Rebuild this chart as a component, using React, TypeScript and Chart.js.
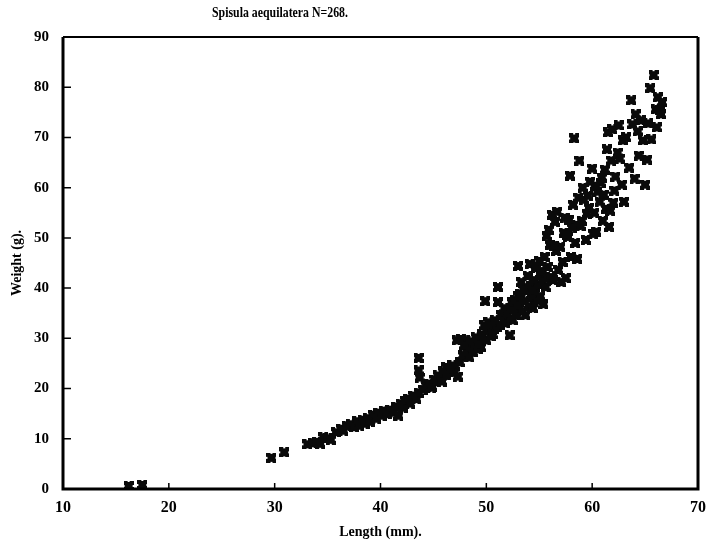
import React, { useEffect, useRef } from "react";
import { Chart, registerables } from "chart.js";

Chart.register(...registerables);

const chartTitle = "Spisula aequilatera N=268.";
const xTitle = "Length (mm).";
const yTitle = "Weight (g).";
const xTicks = [10, 20, 30, 40, 50, 60, 70];
const yTicks = [0, 10, 20, 30, 40, 50, 60, 70, 80, 90];

const lengths = [
  16.2, 17.5,
  29.7, 30.9, 33.1, 33.6, 34.0, 34.3, 34.6, 35.0, 35.3, 35.8, 36.3, 36.5, 36.8, 37.2, 37.5, 37.8, 38.0, 38.3,
  38.5, 38.8, 39.0, 39.3, 39.6, 39.8, 40.1, 40.3, 40.6, 40.9, 41.2, 41.5, 41.7, 41.9, 42.1, 42.3, 42.6, 42.8,
  43.1, 43.4, 43.6, 43.6, 43.6, 43.7, 44.0, 44.3, 44.6, 44.9, 45.1, 45.4, 45.7, 45.9, 46.2, 46.2, 46.5, 46.8,
  47.0, 47.2, 47.3, 47.5, 47.6, 47.8, 48.0, 48.1, 48.3, 48.4, 48.6, 48.7, 48.9, 49.0, 49.2, 49.4, 49.5, 49.6,
  49.8, 49.9, 50.0, 50.0, 50.2, 50.4, 50.5, 50.7, 50.8, 51.0, 51.1, 51.1, 51.3, 51.4, 51.6, 51.7, 51.9, 52.0,
  52.2, 52.3, 52.4, 52.5, 52.7, 52.8, 53.0, 53.0, 53.1, 53.2, 53.3, 53.4, 53.6, 53.7, 53.8, 53.9, 54.0, 54.1,
  54.2, 54.3, 54.4, 54.5, 54.6, 54.7, 54.8, 54.9, 55.0, 55.1, 55.2, 55.3, 55.4, 55.5, 55.6, 55.7, 55.8, 55.9,
  56.0, 56.1, 56.2, 56.3, 56.5, 56.6, 56.7, 56.8, 57.0, 57.1, 57.2, 57.3, 57.4, 57.5, 57.7, 57.8, 57.9, 58.0,
  58.2, 58.3, 58.4, 58.5, 58.6, 58.7, 58.8, 58.9, 59.1, 59.2, 59.4, 59.5, 59.7, 59.8, 60.0, 60.1, 60.2, 60.4,
  60.5, 60.7, 60.9, 61.0, 61.2, 61.3, 61.4, 61.5, 61.6, 61.7, 61.8, 61.9, 62.0, 62.1, 62.2, 62.5, 62.6, 62.9,
  63.0, 63.7, 63.8, 64.0, 64.1, 64.3, 64.4, 64.8, 65.0, 65.2, 65.3, 65.5, 65.8, 66.0, 66.2, 66.4, 66.6, 66.5,
  65.6, 63.5, 62.8, 60.8, 59.0, 44.8, 45.8, 46.6, 47.9, 49.3, 50.6, 51.8, 52.9, 53.5, 54.4, 55.2, 56.4, 57.6,
  58.1, 59.6, 60.3, 61.1, 62.4, 63.2, 64.6, 66.1,
];

const weights = [
  0.6, 0.8,
  6.2, 7.3, 8.9, 9.1, 9.4, 9.0, 10.3, 10.1, 9.8, 11.3, 12.0, 11.6, 12.6, 12.9, 12.3, 13.5, 12.6, 13.8,
  13.0, 14.1, 13.4, 14.8, 14.0, 15.2, 14.6, 15.6, 14.9, 15.8, 15.2, 16.4, 14.6, 17.0, 16.2, 17.6, 18.0, 17.0,
  18.6, 17.9, 19.2, 26.1, 23.6, 22.2, 19.8, 20.6, 21.0, 20.3, 21.8, 22.6, 22.0, 23.4, 24.2, 22.6, 24.0, 24.6,
  23.2, 29.6, 22.4, 25.2, 29.8, 26.6, 29.6, 27.6, 28.2, 26.2, 29.4, 27.2, 28.4, 30.2, 27.8, 29.0, 28.2, 30.8,
  32.6, 37.4, 29.6, 31.6, 33.2, 30.4, 31.6, 31.8, 33.6, 32.2, 37.2, 40.2, 32.6, 34.6, 33.6, 36.0, 34.2, 35.0,
  30.6, 35.8, 37.2, 33.6, 37.6, 34.6, 38.4, 44.4, 36.0, 38.8, 41.2, 35.4, 37.4, 34.6, 39.4, 42.4, 36.4, 44.8,
  40.4, 38.2, 36.0, 41.6, 39.0, 44.0, 37.6, 40.8, 45.4, 38.4, 42.6, 41.4, 36.8, 46.2, 40.2, 50.4, 44.2, 51.6,
  48.6, 42.2, 54.6, 41.6, 53.2, 47.4, 55.2, 43.6, 48.2, 41.2, 45.2, 51.0, 54.0, 42.0, 50.2, 53.6, 62.4, 46.2,
  56.6, 69.8, 49.0, 52.6, 45.8, 58.0, 65.4, 52.4, 60.0, 57.6, 49.6, 54.8, 56.0, 61.2, 63.8, 50.8, 55.0, 51.2,
  59.2, 57.2, 62.0, 53.4, 63.6, 55.8, 67.6, 71.0, 52.2, 55.4, 65.4, 71.6, 57.0, 59.4, 62.2, 72.4, 65.8, 69.4,
  57.2, 77.4, 72.6, 61.8, 74.6, 71.2, 66.4, 69.4, 60.6, 65.6, 72.8, 79.8, 82.4, 75.6, 78.0, 75.4, 77.0, 74.6,
  69.6, 64.0, 60.6, 61.0, 53.4, 20.2, 21.4, 23.8, 28.6, 28.8, 30.8, 33.0, 36.6, 39.8, 39.6, 43.4, 48.4, 50.6,
  52.0, 58.4, 60.4, 58.6, 67.0, 70.0, 73.4, 72.0,
];

const FONT = "'Liberation Serif', 'DejaVu Serif', serif";

function makeMarker(): HTMLCanvasElement {
  const c = document.createElement("canvas");
  c.width = 10;
  c.height = 10;
  const g = c.getContext("2d")!;
  g.fillStyle = "#0a0a0a";
  g.fillRect(0, 0, 10, 10);
  g.clearRect(4, 0, 2, 1);
  g.clearRect(4, 9, 2, 1);
  g.clearRect(0, 4, 1, 2);
  g.clearRect(9, 4, 1, 2);
  return c;
}

const framePlugin = {
  id: "frame",
  afterDraw(chart: any) {
    const { ctx, chartArea } = chart;
    const { left, right, top, bottom } = chartArea;
    const xs = chart.scales.x;
    const ys = chart.scales.y;
    ctx.save();
    ctx.strokeStyle = "#000";
    ctx.lineWidth = 3;
    ctx.beginPath();
    ctx.moveTo(left, top);
    ctx.lineTo(left, bottom);
    ctx.lineTo(right, bottom);
    ctx.lineTo(right, top);
    ctx.stroke();
    ctx.lineWidth = 2;
    ctx.beginPath();
    ctx.moveTo(left, top);
    ctx.lineTo(right, top);
    ctx.stroke();
    ctx.lineWidth = 1.5;
    ctx.beginPath();
    yTicks.forEach((v) => {
      const y = ys.getPixelForValue(v);
      ctx.moveTo(left, y);
      ctx.lineTo(left + 8, y);
    });
    xTicks.forEach((v) => {
      const x = xs.getPixelForValue(v);
      ctx.moveTo(x, bottom);
      ctx.lineTo(x, bottom - 6);
    });
    ctx.stroke();

    // chart title, centred left of the canvas centre as in the original
    ctx.font = `bold 15px ${FONT}`;
    ctx.fillStyle = "#000";
    ctx.textAlign = "center";
    ctx.textBaseline = "middle";
    const w = ctx.measureText(chartTitle).width;
    const target = 136;
    ctx.translate(280, 13);
    ctx.scale(Math.min(1, target / w), 1);
    ctx.fillText(chartTitle, 0, 0);
    ctx.restore();
  },
};

export default function App() {
  const ref = useRef<HTMLCanvasElement | null>(null);
  useEffect(() => {
    if (!ref.current) return;
    const marker = makeMarker();
    const points = lengths.map((x, i) => ({ x, y: weights[i] }));
    const chart = new Chart(ref.current, {
      type: "scatter",
      data: {
        datasets: [
          {
            data: points,
            pointStyle: marker as any,
            pointRadius: 5,
            backgroundColor: "#0a0a0a",
            borderColor: "#0a0a0a",
          },
        ],
      },
      plugins: [framePlugin],
      options: {
        animation: false,
        responsive: false,
        maintainAspectRatio: false,
        layout: { padding: { top: 37, right: 10, left: 0, bottom: 0 } },
        plugins: {
          legend: { display: false },
          tooltip: { enabled: false },
          title: { display: false },
        },
        scales: {
          x: {
            type: "linear",
            min: 10,
            max: 70,
            afterFit: (s: any) => {
              s.height = 53;
              s.paddingLeft = 0;
              s.paddingRight = 0;
            },
            afterBuildTicks: (s: any) => {
              s.ticks = xTicks.map((v) => ({ value: v }));
            },
            grid: { display: false },
            border: { display: false },
            ticks: {
              color: "#000",
              padding: 1,
              maxRotation: 0,
              font: { family: FONT, size: 16, weight: "bold" },
            },
            title: {
              display: true,
              text: xTitle,
              color: "#000",
              font: { family: FONT, size: 14, weight: "bold" },
              padding: { top: 0, bottom: 1 },
            },
          },
          y: {
            type: "linear",
            min: 0,
            max: 90,
            afterFit: (s: any) => {
              s.width = 63;
              s.paddingTop = 0;
              s.paddingBottom = 0;
            },
            afterBuildTicks: (s: any) => {
              s.ticks = yTicks.map((v) => ({ value: v }));
            },
            grid: { display: false },
            border: { display: false },
            ticks: {
              color: "#000",
              padding: 6,
              font: { family: FONT, size: 15, weight: "bold" },
            },
            title: {
              display: true,
              text: yTitle,
              color: "#000",
              font: { family: FONT, size: 14, weight: "bold" },
              padding: { top: 9, bottom: 0 },
            },
          },
        },
      },
    });
    return () => chart.destroy();
  }, []);
  return (
    <div style={{ position: "absolute", left: 0, top: 0, width: 708, height: 542, background: "#fff" }}>
      <canvas ref={ref} width={708} height={542} style={{ display: "block", width: 708, height: 542 }} />
    </div>
  );
}
